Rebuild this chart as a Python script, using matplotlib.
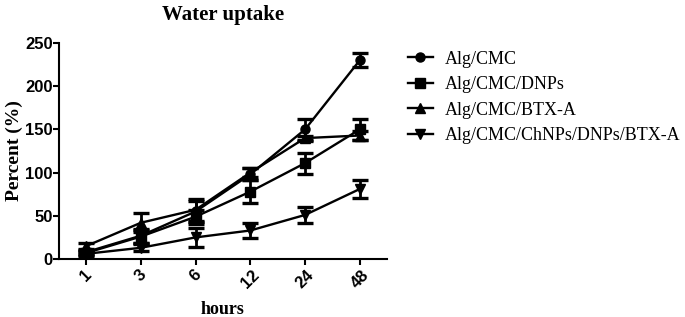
import matplotlib
matplotlib.use('Agg')
import matplotlib.pyplot as plt

hours = ['1', '3', '6', '12', '24', '48']

alg_cmc = [8, 27, 55, 98, 150, 230]
alg_cmc_err = [2, 8, 12, 7, 12, 8]

alg_cmc_dnps = [7, 26, 49, 78, 111, 150]
alg_cmc_dnps_err = [2, 8, 8, 13, 12, 12]

alg_cmc_btx = [15, 42, 57, 100, 140, 143]
alg_cmc_btx_err = [3, 11, 13, 5, 3, 5]

alg_cmc_chnps = [6, 13, 25, 33, 51, 81]
alg_cmc_chnps_err = [2, 4, 11, 9, 9, 10]

series = [
    ('Alg/CMC', alg_cmc, alg_cmc_err, 'o'),
    ('Alg/CMC/DNPs', alg_cmc_dnps, alg_cmc_dnps_err, 's'),
    ('Alg/CMC/BTX-A', alg_cmc_btx, alg_cmc_btx_err, '^'),
    ('Alg/CMC/ChNPs/DNPs/BTX-A', alg_cmc_chnps, alg_cmc_chnps_err, 'v'),
]

serif = 'Liberation Serif'
sans = 'Liberation Sans'

fig = plt.figure(figsize=(6.85, 3.17), dpi=100)
ax = fig.add_axes([0.086, 0.183, 0.479, 0.681])

x = list(range(len(hours)))
for label, vals, err, mk in series:
    ax.errorbar(x, vals, yerr=err, fmt='none', ecolor='black',
                elinewidth=2, capsize=5.5, capthick=2.4)
    ax.plot(x, vals, color='black', linewidth=1.7, marker=mk,
            markersize=6.5, label=label)

ax.set_xlim(-0.5, 5.5)
ax.set_ylim(0, 250)
ax.set_xticks(x)
ax.set_xticklabels(hours, rotation=45, fontfamily=sans,
                   fontweight='bold', fontsize=12)
ax.set_yticks([0, 50, 100, 150, 200, 250])
for t in ax.get_yticklabels():
    t.set_fontfamily(sans)
    t.set_fontweight('bold')
    t.set_fontsize(12)

for s in ['top', 'right']:
    ax.spines[s].set_visible(False)
for s in ['left', 'bottom']:
    ax.spines[s].set_linewidth(1.5)
ax.tick_params(width=1.5, length=4, direction='out')
ax.tick_params(axis='y', pad=0.5)
ax.tick_params(axis='x', pad=2)

ax.set_title('Water uptake', fontfamily=serif, fontweight='bold',
             fontsize=15, pad=17)
ax.set_xlabel('hours', fontfamily=serif, fontweight='bold', fontsize=13,
              labelpad=7)
ax.set_ylabel('Percent (%)', fontfamily=serif, fontweight='bold',
              fontsize=14)
ax.yaxis.set_label_coords(-0.108, 0.5)

fig.legend(*ax.get_legend_handles_labels(), loc='upper left',
           bbox_to_anchor=(0.596, 0.84), frameon=False,
           prop={'family': serif, 'size': 13}, handlelength=1.35,
           handletextpad=0.7, labelspacing=0.47, borderpad=0,
           borderaxespad=0)

fig.savefig('out.png', dpi=100)
